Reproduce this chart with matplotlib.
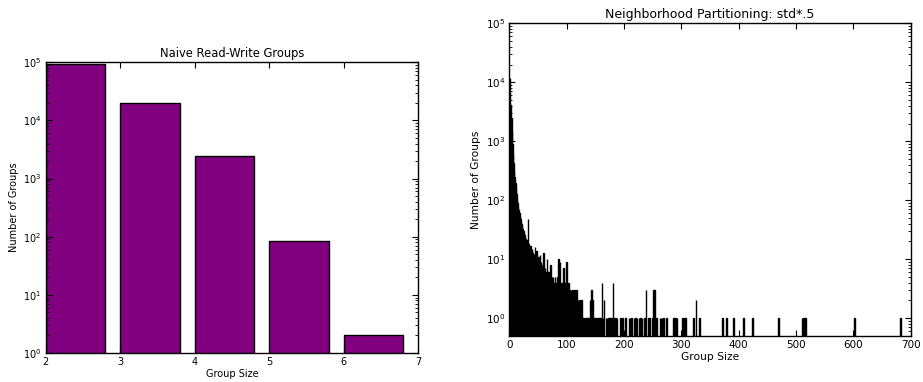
import matplotlib
matplotlib.use("Agg")
import matplotlib.pyplot as plt

# naive read-write grouping: count of groups per group size
naive_sizes = [2, 3, 4, 5, 6]
naive_counts = [93000, 20000, 2450, 85, 2]

# neighborhood partitioning (std*.5): dense part, sizes 1..120
dense_sizes = list(range(1, 121))
dense_counts = [
    12000, 4200, 2500, 1500, 900, 600, 430, 330, 250, 200,
    160, 130, 105, 90, 78, 68, 60, 54, 48, 43,
    39, 36, 33, 30, 28, 26, 24, 22, 21, 20,
    19, 48, 18, 17, 16, 17, 15, 14, 15, 13,
    13, 12, 12, 16, 11, 11, 14, 10, 10, 11,
    9, 9, 12, 8, 9, 7, 8, 7, 13, 7,
    6, 7, 6, 6, 10, 6, 5, 6, 5, 5,
    8, 5, 4, 5, 4, 5, 4, 4, 5, 4,
    4, 4, 4, 5, 10, 4, 4, 9, 4, 3,
    4, 4, 4, 7, 4, 4, 3, 4, 9, 4,
    4, 3, 4, 3, 3, 2, 3, 2, 2, 3,
    2, 1, 3, 2, 1, 1, 3, 1, 2, 1,
]

# sparse tail, sizes above 120
tail_sizes = [
    121, 122, 124, 125, 127, 129, 132, 134, 136, 138,
    140, 142, 143, 145, 147, 148, 150, 153, 155, 157,
    159, 161, 163, 165, 168, 170, 172, 174, 176, 178,
    180, 183, 185, 187, 193, 197, 202, 208, 210, 213,
    217, 220, 222, 226, 228, 231, 235, 238, 242, 244,
    249, 251, 253, 256, 262, 264, 266, 268, 274, 286,
    289, 292, 302, 305, 307, 321, 325, 331, 371, 378,
    390, 408, 424, 469, 510, 513, 516, 601, 682,
]
tail_counts = [
    1, 2, 1, 2, 1, 1, 1, 1, 1, 1,
    2, 2, 3, 2, 1, 1, 1, 1, 1, 1,
    1, 4, 1, 2, 1, 1, 1, 1, 1, 1,
    4, 1, 1, 1, 1, 1, 1, 1, 1, 1,
    1, 1, 1, 1, 1, 1, 1, 3, 1, 1,
    1, 3, 3, 1, 1, 1, 1, 1, 1, 1,
    1, 1, 1, 1, 1, 1, 2, 1, 1, 1,
    1, 1, 1, 1, 1, 1, 1, 1, 1,
]

W, H = 923, 382
fig = plt.figure(figsize=(W / 100, H / 100), dpi=100)
fig.patch.set_facecolor("white")


def style_axes(ax, tick_size):
    ax.tick_params(which="both", direction="in", top=True, right=True,
                   labelsize=tick_size, pad=3)
    ax.tick_params(which="major", length=4, width=0.8)
    ax.tick_params(which="minor", length=2, width=0.6)
    for s in ax.spines.values():
        s.set_linewidth(1.0)
        s.set_color("black")


# left panel
ax1 = fig.add_axes([45.7 / W, (H - 353) / H, 372.6 / W, 290.7 / H])
ax1.set_yscale("log")
ax1.bar(naive_sizes, naive_counts, width=0.8, align="edge",
        color="purple", edgecolor="black", linewidth=1.0)
ax1.set_xlim(2, 7)
ax1.set_ylim(1, 1e5)
ax1.set_title("Naive Read-Write Groups", fontsize=8.3, pad=4)
ax1.set_xlabel("Group Size", fontsize=7, labelpad=1)
ax1.set_ylabel("Number of Groups", fontsize=7, labelpad=3)
style_axes(ax1, 7)

# right panel
ax2 = fig.add_axes([509.3 / W, (H - 336) / H, 401.4 / W, 312.7 / H])
ax2.set_yscale("log")
ax2.bar(dense_sizes + tail_sizes, dense_counts + tail_counts, width=1,
        align="edge", color="#e69500", edgecolor="black", linewidth=1.0)
ax2.set_xlim(0, 700)
ax2.set_ylim(0.5, 1e5)
ax2.set_xticks(range(0, 701, 100))
ax2.set_title("Neighborhood Partitioning: std*.5", fontsize=9, pad=4)
ax2.set_xlabel("Group Size", fontsize=7.7, labelpad=1)
ax2.set_ylabel("Number of Groups", fontsize=7.7, labelpad=3)
style_axes(ax2, 7.5)

fig.savefig("out.png", dpi=100, facecolor="white")
